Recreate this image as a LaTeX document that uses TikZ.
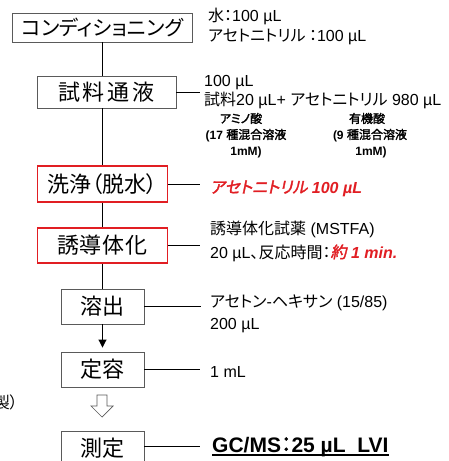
\documentclass[tikz,border=0pt]{standalone}
\usepackage{fontspec}
\setmainfont{Liberation Sans}
\newfontfamily\jpf{Noto Sans CJK JP}[CharacterWidth=AlternateProportional,
  BoldFont={Noto Sans CJK JP}, BoldFeatures={FakeBold=2},
  ItalicFont={Noto Sans CJK JP}, ItalicFeatures={FakeSlant=0.2},
  BoldItalicFont={Noto Sans CJK JP}, BoldItalicFeatures={FakeBold=2,FakeSlant=0.2}]
\newcommand{\jt}[1]{{\jpf #1}}
\usetikzlibrary{arrows.meta}
\definecolor{boxred}{RGB}{225,30,35}
\definecolor{boxgray}{RGB}{90,90,90}
\begin{document}
\begin{tikzpicture}[x=1pt,y=-1pt,
  box/.style={draw=boxgray, line width=0.9pt, fill=white, inner sep=0pt,
    font=\fontsize{22}{26}\selectfont\jpf},
  redbox/.style={box, draw=boxred, line width=1.6pt},
  conn/.style={line width=0.9pt, black},
  txt/.style={anchor=base west, inner sep=0pt, font=\fontsize{16}{19}\selectfont},
  small/.style={anchor=base, inner sep=0pt, font=\fontsize{12}{14}\selectfont\bfseries},
  redtxt/.style={txt, text=boxred, font=\fontsize{16}{19}\selectfont\bfseries\itshape}]
\fill[white] (0,0) rectangle (448,461);
\useasboundingbox (0,0) rectangle (448,461);
\clip (0,0) rectangle (448,461);

% boxes
\node[box, minimum width=180pt, minimum height=29pt, font=\fontsize{20.5}{24}\selectfont\jpf] (b1) at (102.5,27.5) {コンディショニング};
\node[box, minimum width=139pt, minimum height=32pt] (b2) at (106.5,92) {試\hspace{3pt}料\hspace{3pt}通\hspace{3pt}液};
\node[redbox, minimum width=130pt, minimum height=36pt] (b3) at (102.5,184) {洗浄（脱水）};
\node[redbox, minimum width=130pt, minimum height=35pt] (b4) at (102.5,245.5) {誘\hspace{1pt}導\hspace{1pt}体\hspace{1pt}化};
\node[box, minimum width=83pt, minimum height=35pt] (b5) at (102.5,306.5) {溶\hspace{1pt}出};
\node[box, minimum width=83pt, minimum height=35pt] (b6) at (102.5,369.5) {定\hspace{1pt}容};
\node[box, minimum width=83pt, minimum height=35pt] (b7) at (102.5,448.5) {測\hspace{1pt}定};

% vertical flow line
\draw[conn] (b1.south) -- (b1.south |- b2.north);
\draw[conn] (b1.south |- b2.south) -- (b1.south |- b3.north);
\draw[conn] (b3.south) -- (b4.north);
\draw[conn] (b4.south) -- (b5.north);
\draw[conn, -{Triangle[length=8pt,width=8pt]}, shorten >=4pt] (b5.south) -- (b6.north);

% hollow arrow
\draw[line width=0.7pt, draw=boxgray, fill=white]
  (97,395) -- (107,395) -- (107,406) -- (113,406) -- (102,417) -- (91,406) -- (97,406) -- cycle;

% connectors
\coordinate (c2) at (200,92);
\coordinate (c3) at (200,184);
\coordinate (c4) at (200,245.5);
\coordinate (c5) at (201,306.5);
\coordinate (c6) at (200,369.5);
\coordinate (c7) at (200,446);
\draw[conn] (b2.east) -- (c2);
\draw[conn] (b3.east) -- (c3);
\draw[conn] (b4.east) -- (c4);
\draw[conn] (b5.east) -- (c5);
\draw[conn] (b6.east) -- (c6);
\draw[conn] (b7.east |- c7) -- (c7);

% texts
\node[txt] (t1a) at (208,21) {\jt{水：}100 µL};
\node[txt] (t1b) at (208,41) {\jt{アセトニトリル ：}100 µL};
\node[txt] (t2a) at (204,86) {100 µL};
\node[txt] (t2b) at (204,105) {\jt{試料}20 µL+ \jt{アセトニトリル} 980 µL};
\node[small] (s1a) at (241,123) {\jt{アミノ酸}};
\node[small] (s1b) at (246,139) {(17 \jt{種混合溶液}};
\node[small] (s1c) at (246,155) {1mM)};
\node[small] (s2a) at (367,123) {\jt{有機酸}};
\node[small] (s2b) at (370,139) {(9 \jt{種混合溶液}};
\node[small] (s2c) at (371,155) {1mM)};
\node[redtxt] (t3) at (210,193) {\jt{アセトニトリル} 100 µL};
\node[txt] (t4a) at (210,234) {\jt{誘導体化試薬} (MSTFA)};
\node[txt] (t4b) at (210,258) {20 µL\jt{、反応時間：}{\color{boxred}\bfseries\itshape\jt{約} 1 min.}};
\node[txt] (t5a) at (210,307) {\jt{アセトン}-\jt{ヘキサン} (15/85)};
\node[txt] (t5b) at (210,329) {200 µL};
\node[txt] (t6) at (210,377) {1 mL};
\node[txt, font=\fontsize{21}{24}\selectfont\bfseries] (t7) at (212,452) {GC/MS\jt{：}25 µL\ \ LVI};
\draw[line width=1.6pt] (t7.south west |- 0,455) -- (t7.south east |- 0,455);
\node[anchor=base east, inner sep=0pt, font=\fontsize{16}{19}\selectfont\jpf] (t8) at (18,408) {製）};
\end{tikzpicture}
\end{document}
